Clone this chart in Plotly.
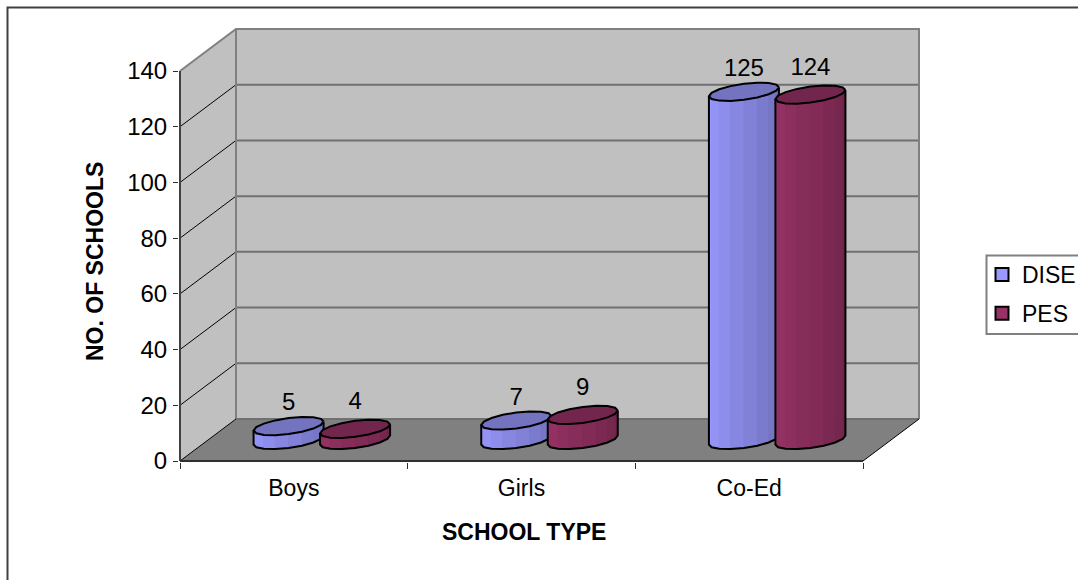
import math
import plotly.graph_objects as go

categories = ["Boys", "Girls", "Co-Ed"]
dise = [5, 7, 125]
pes = [4, 9, 124]
y_ticks = [0, 20, 40, 60, 80, 100, 120, 140]

W, H = 1078, 580
L, R, T, B = 180, 863, 71, 461
PX_X = (R - L) / 3
PX_Y = (B - T) / 140
DEPTH_PX_X, DEPTH_PX_Y = 56, 42
DEPTH_X, DEPTH_Y = DEPTH_PX_X / PX_X, DEPTH_PX_Y / PX_Y
FONT = "Liberation Sans, Arial, sans-serif"
FS = 23
FS_NUM = 24

# plot area spans front plane + depth, plus 1 px so edge lines are not clipped
PL, PR = L - 1, R + DEPTH_PX_X + 1
PT, PB = T - DEPTH_PX_Y - 1, B + 1

fig = go.Figure()

def poly(xs, ys, fill, line=None, width=0):
    fig.add_trace(go.Scatter(
        x=xs, y=ys, mode="lines", fill="toself", fillcolor=fill,
        line=dict(color=line or fill, width=width), hoverinfo="skip",
        showlegend=False, cliponaxis=False))

def path(xs, ys, color, width):
    fig.add_trace(go.Scatter(
        x=xs, y=ys, mode="lines", line=dict(color=color, width=width),
        hoverinfo="skip", showlegend=False, cliponaxis=False))

ymax = y_ticks[-1]
# side wall, back wall, floor
poly([0, DEPTH_X, DEPTH_X, 0, 0], [0, DEPTH_Y, ymax + DEPTH_Y, ymax, 0], "#c0c0c0")
poly([DEPTH_X, 3 + DEPTH_X, 3 + DEPTH_X, DEPTH_X, DEPTH_X],
     [DEPTH_Y, DEPTH_Y, ymax + DEPTH_Y, ymax + DEPTH_Y, DEPTH_Y], "#c0c0c0")
poly([0, DEPTH_X, 3 + DEPTH_X, 3, 0], [0, DEPTH_Y, DEPTH_Y, 0, 0], "#808080")

# gridlines
for v in y_ticks[1:-1]:
    path([DEPTH_X, 3 + DEPTH_X], [v + DEPTH_Y, v + DEPTH_Y], "#707070", 2)
    path([0, DEPTH_X], [v, v + DEPTH_Y], "#000000", 1)
# wall edges
path([0, DEPTH_X, 3 + DEPTH_X, 3 + DEPTH_X], [ymax, ymax + DEPTH_Y, ymax + DEPTH_Y, DEPTH_Y], "#808080", 2)
path([DEPTH_X, DEPTH_X], [ymax + DEPTH_Y, DEPTH_Y], "#808080", 2)
path([DEPTH_X, 3 + DEPTH_X], [DEPTH_Y, DEPTH_Y], "#707070", 2)
path([0, DEPTH_X], [0, DEPTH_Y], "#000000", 1)
path([3, 3 + DEPTH_X], [0, DEPTH_Y], "#000000", 1)
# axis lines
path([0, 0], [0, ymax], "#404040", 2)
path([0, 3], [0, 0], "#303030", 2)

# cylinders
A, SK, BH = 35.0, 4.5, 8.0
SEG = 8

def ring(cx, cy, t):
    return cx + A * math.cos(t) / PX_X, cy + (SK * math.cos(t) + BH * math.sin(t)) / PX_Y

def mix(c, f):
    return "rgb(%d,%d,%d)" % tuple(round(a * f) for a in c)

def cylinder(cx, val, base, top):
    y0, y1 = DEPTH_Y / 2, DEPTH_Y / 2 + val
    ts = [math.pi + math.pi * i / SEG for i in range(SEG + 1)]
    for i in range(SEG):
        a = ring(cx, y0, ts[i]); b = ring(cx, y0, ts[i + 1])
        c = ring(cx, y1, ts[i + 1]); d = ring(cx, y1, ts[i])
        f = 1 - 0.27 * (i / (SEG - 1))
        poly([a[0], b[0], c[0], d[0], a[0]], [a[1], b[1], c[1], d[1], a[1]], mix(base, f), width=1)
    low = [ring(cx, y0, t) for t in ts]
    full = [ring(cx, y1, math.pi * 2 * i / (2 * SEG)) for i in range(2 * SEG + 1)]
    poly([p[0] for p in full], [p[1] for p in full], top)
    outline_x = [ring(cx, y1, math.pi)[0]] + [p[0] for p in low] + [ring(cx, y1, 0)[0]]
    outline_y = [ring(cx, y1, math.pi)[1]] + [p[1] for p in low] + [ring(cx, y1, 0)[1]]
    path(outline_x, outline_y, "#000000", 2)
    path([p[0] for p in full], [p[1] for p in full], "#000000", 2)

GAP = 66.5 / 2 / PX_X
series = [
    ("DISE", dise, -GAP, (153, 153, 255), "#7373bf", "#9999ff", 22),
    ("PES", pes, GAP, (153, 51, 102), "#73264d", "#993366", 26),
]
for name, vals, off, base, top, swatch, lab in series:
    xs = []
    ys = []
    for i, v in enumerate(vals):
        cx = i + 0.5 + DEPTH_X / 2 + off
        cylinder(cx, v, base, top)
        xs.append(cx)
        ys.append(DEPTH_Y / 2 + v + lab / PX_Y)
    fig.add_trace(go.Scatter(
        x=xs, y=ys, mode="text", text=[str(v) for v in vals], textposition="middle center",
        textfont=dict(family=FONT, size=FS_NUM, color="#000000"), hoverinfo="skip",
        showlegend=False, cliponaxis=False))

for name, vals, off, base, top, swatch, lab in series:
    fig.add_trace(go.Scatter(
        x=[None], y=[None], mode="markers", name=name, legendgroup=name,
        marker=dict(symbol="square", size=13, color=swatch, line=dict(color="#000000", width=2))))

px = lambda x: (x - PL) / (PR - PL)
py = lambda y: (PB - y) / (PB - PT)
fig.update_layout(
    width=W, height=H, autosize=False,
    margin=dict(l=PL, r=W - PR, t=PT, b=H - PB, pad=0, autoexpand=False),
    paper_bgcolor="#ffffff", plot_bgcolor="rgba(0,0,0,0)",
    font=dict(family=FONT, size=FS, color="#000000"),
    xaxis=dict(
        range=[-1 / PX_X, 3 + DEPTH_X + 1 / PX_X], tickmode="array",
        tickvals=[0.5, 1.5, 2.5], ticktext=categories, ticklabelstandoff=10,
        ticks="", showgrid=False, zeroline=False, showline=False,
        tickfont=dict(size=FS),
        minor=dict(tickmode="array", tickvals=[0, 1, 2, 3], ticks="outside", ticklen=6,
                   tickcolor="#303030", tickwidth=1, showgrid=False),
    ),
    yaxis=dict(
        range=[-1 / PX_Y, ymax + DEPTH_Y + 1 / PX_Y], tickmode="array", tickvals=y_ticks,
        ticks="outside", ticklen=5, ticklabelstandoff=1,
        tickcolor="#303030", tickwidth=1, showgrid=False, zeroline=False,
        showline=False, tickfont=dict(size=FS_NUM),
    ),
    annotations=[
        dict(text="<b>SCHOOL TYPE</b>", xref="paper", yref="paper", x=px(523.5), y=py(532),
             showarrow=False, xanchor="center", yanchor="middle", font=dict(size=FS)),
        dict(text="<b>NO. OF SCHOOLS</b>", xref="paper", yref="paper", x=px(95), y=py(262),
             showarrow=False, xanchor="center", yanchor="middle", textangle=-90, font=dict(size=FS)),
    ],
    legend=dict(
        xref="container", yref="container", x=982 / W, y=1 - 253 / H, xanchor="left", yanchor="top",
        bgcolor="rgba(0,0,0,0)", borderwidth=0, font=dict(size=FS),
        traceorder="grouped", tracegroupgap=6, itemsizing="trace",
    ),
    shapes=[
        dict(type="rect", xref="paper", yref="paper",
             x0=px(7.5), x1=px(1200), y0=py(7.5), y1=py(700),
             line=dict(color="#404040", width=2), fillcolor="rgba(0,0,0,0)", layer="below"),
        dict(type="rect", xref="paper", yref="paper",
             x0=px(986.5), x1=px(1200), y0=py(255.5), y1=py(334),
             line=dict(color="#808080", width=2), fillcolor="#ffffff", layer="below"),
    ],
)
fig.write_html("out.html", config=dict(displayModeBar=False),
               post_script="document.body.style.margin='0';")
